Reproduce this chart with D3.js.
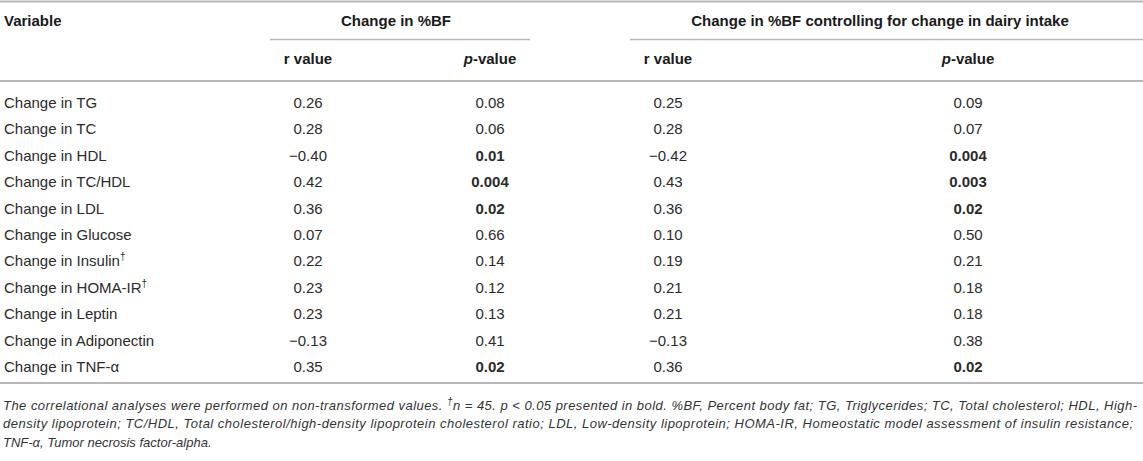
<!DOCTYPE html>
<html>
<head>
<meta charset="utf-8">
<script src="https://cdn.jsdelivr.net/npm/d3@7"></script>
<style>
  body { margin: 0; background: #fff; }
  svg text { font-family: "Liberation Sans", Arial, Helvetica, sans-serif; }
</style>
</head>
<body>
<svg width="1143" height="461"></svg>
<script>
// table content
var variables = ["Change in TG", "Change in TC", "Change in HDL", "Change in TC/HDL", "Change in LDL",
  "Change in Glucose", "Change in Insulin", "Change in HOMA-IR", "Change in Leptin",
  "Change in Adiponectin", "Change in TNF-\u03b1"];
var dagger = [false, false, false, false, false, false, true, true, false, false, false];
var rBF = ["0.26", "0.28", "\u22120.40", "0.42", "0.36", "0.07", "0.22", "0.23", "0.23", "\u22120.13", "0.35"];
var pBF = ["0.08", "0.06", "0.01", "0.004", "0.02", "0.66", "0.14", "0.12", "0.13", "0.41", "0.02"];
var rAdj = ["0.25", "0.28", "\u22120.42", "0.43", "0.36", "0.10", "0.19", "0.21", "0.21", "\u22120.13", "0.36"];
var pAdj = ["0.09", "0.07", "0.004", "0.003", "0.02", "0.50", "0.21", "0.18", "0.18", "0.38", "0.02"];
var groups = ["Change in %BF", "Change in %BF controlling for change in dairy intake"];
var footnote = [
  "The correlational analyses were performed on non-transformed values. ",
  "n = 45. p < 0.05 presented in bold. %BF, Percent body fat; TG, Triglycerides; TC, Total cholesterol; HDL, High-",
  "density lipoprotein; TC/HDL, Total cholesterol/high-density lipoprotein cholesterol ratio; LDL, Low-density lipoprotein; HOMA-IR, Homeostatic model assessment of insulin resistance;",
  "TNF-\u03b1, Tumor necrosis factor-alpha."
];

var svg = d3.select("svg"),
    width = +svg.attr("width");

var cols = ["r1", "p1", "r2", "p2"];
var x = d3.scaleOrdinal().domain(cols).range([308, 490, 668, 968]);
var y = d3.scalePoint().domain(variables).range([103, 367]);
var colData = {r1: rBF, p1: pBF, r2: rAdj, p2: pAdj};

var ink = "#2b2b2b", rule = "#b8b8b8";

function hline(x1, x2, yy, w) {
  svg.append("line").attr("x1", x1).attr("x2", x2).attr("y1", yy).attr("y2", yy)
    .attr("stroke", rule).attr("stroke-width", w);
}

// rules
hline(0, width, 1.5, 2);
hline(270, 530, 39.5, 1.5);
hline(630, width, 39.5, 1.5);
hline(0, width, 81, 2);
hline(0, width, 383, 2);

// header
var head = svg.append("g").attr("font-weight", "bold").attr("font-size", 15).attr("fill", "#1a1a1a");
head.append("text").attr("x", 4).attr("y", 26).text("Variable");
head.append("text").attr("x", 396).attr("y", 26).attr("text-anchor", "middle").text(groups[0]);
head.append("text").attr("x", 880).attr("y", 26).attr("text-anchor", "middle").text(groups[1]);
cols.forEach(function(c) {
  var t = head.append("text").attr("x", x(c)).attr("y", 64).attr("text-anchor", "middle");
  if (c[0] === "r") t.text("r value");
  else {
    t.append("tspan").attr("font-style", "italic").text("p");
    t.append("tspan").text("-value");
  }
});

// body rows
var body = svg.append("g").attr("font-size", 15).attr("fill", ink);
var rows = body.selectAll(".row").data(variables).enter().append("g")
  .attr("class", "row")
  .attr("transform", function(d) { return "translate(0," + (y(d) + 5) + ")"; });

rows.append("text").attr("x", 4)
  .each(function(d, i) {
    var t = d3.select(this);
    t.append("tspan").text(d);
    if (dagger[i]) t.append("tspan").attr("font-size", 10).attr("dy", -6).text("\u2020");
  });

cols.forEach(function(c) {
  rows.append("text")
    .attr("x", x(c))
    .attr("text-anchor", "middle")
    .attr("font-weight", function(d, i) {
      return c[0] === "p" && +colData[c][i] < 0.05 ? "bold" : null;
    })
    .text(function(d, i) { return colData[c][i]; });
});

// footnote
var foot = svg.append("g").attr("font-size", 13).attr("font-style", "italic").attr("fill", "#333");
var f1 = foot.append("text").attr("x", 3).attr("y", 410)
  .attr("textLength", 1134).attr("lengthAdjust", "spacing");
f1.append("tspan").text(footnote[0]);
f1.append("tspan").attr("font-size", 10).attr("dy", -5).text("\u2020");
f1.append("tspan").attr("dy", 5).text(footnote[1]);
foot.append("text").attr("x", 3).attr("y", 428)
  .attr("textLength", 1130).attr("lengthAdjust", "spacing").text(footnote[2]);
foot.append("text").attr("x", 3).attr("y", 447).text(footnote[3]);
</script>
</body>
</html>
